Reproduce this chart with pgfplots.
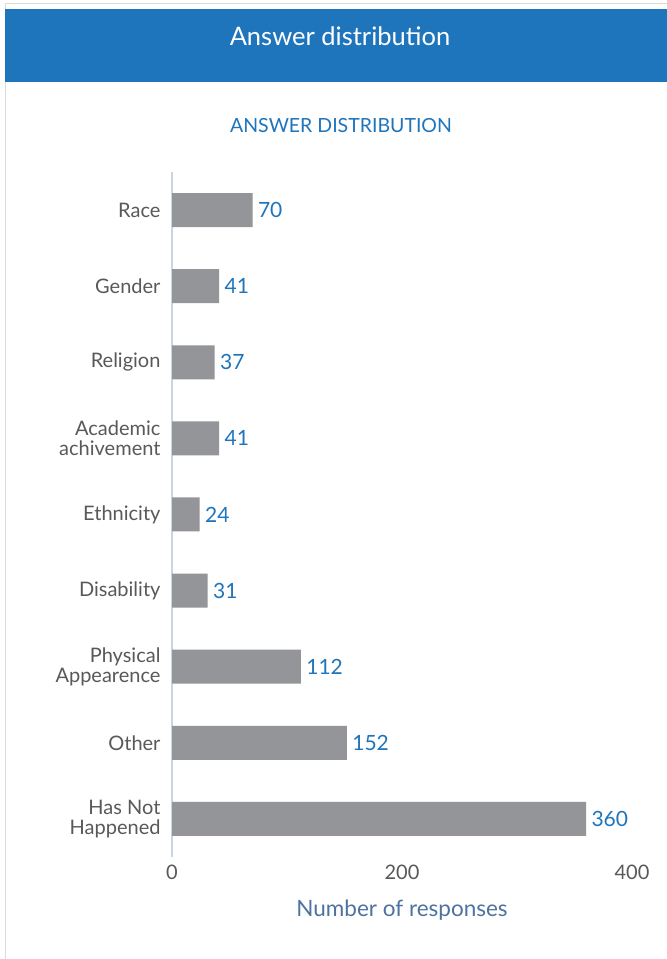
\documentclass[border=0pt]{standalone}
\usepackage{fontspec}
\setmainfont{Lato}
\usepackage{pgfplots}
\pgfplotsset{compat=1.18}
\definecolor{hdr}{HTML}{1F75BC}
\definecolor{barc}{HTML}{939598}
\definecolor{lbl}{HTML}{595959}
\definecolor{xl}{HTML}{4E73A0}
\definecolor{axl}{HTML}{C8D5E6}
\definecolor{frm}{HTML}{DADADA}
\begin{document}
\begin{tikzpicture}
\path[use as bounding box] (0pt,0pt) rectangle (667pt,959pt);
\fill[white] (0pt,0pt) rectangle (667pt,959pt);
\draw[frm, line width=1.5pt] (5.5pt,0pt) -- (5.5pt,955.5pt) -- (667pt,955.5pt);
\fill[hdr] (5pt,877pt) rectangle (667pt,950pt);
\node[white, font=\fontsize{25.5}{27}\selectfont] at (340pt,923pt) {Answer distribution};
\node[hdr, font=\fontsize{19.5}{21}\selectfont] at (341pt,833pt) {ANSWER DISTRIBUTION};
\begin{axis}[
  at={(172pt,102pt)}, anchor=south west, scale only axis,
  width=460pt, height=685pt,
  xmin=0, xmax=400, ymin=-0.5, ymax=8.5,
  xbar, bar width=34pt,
  separate axis lines,
  x axis line style={draw=none},
  y axis line style={axl, line width=1.5pt},
  axis x line*=bottom, axis y line*=left,
  major tick length=0pt,
  xtick={0,200,400},
  ytick={0,1,2,3,4,5,6,7,8},
  yticklabels={{Has Not\\Happened},Other,{Physical\\Appearence},Disability,Ethnicity,{Academic\\achivement},Religion,Gender,Race},
  yticklabel style={align=right, font=\fontsize{20}{20}\selectfont, text=lbl, xshift=-8pt},
  xticklabel style={font=\fontsize{20}{22}\selectfont, text=lbl, yshift=-4pt},
  /pgf/number format/assume math mode=true,
  xlabel={Number of responses},
  xlabel style={font=\fontsize{22.5}{24}\selectfont, text=xl, at={(axis description cs:0.5,0)}, anchor=center, yshift=-53pt},
  nodes near coords,
  nodes near coords style={text=hdr, font=\fontsize{21}{22}\selectfont, anchor=west, xshift=2pt},
  point meta=x,
]
\addplot[fill=barc, draw=none] coordinates {
(360,0) (152,1) (112,2) (31,3) (24,4) (41,5) (37,6) (41,7) (70,8)};
\end{axis}
\end{tikzpicture}
\end{document}
